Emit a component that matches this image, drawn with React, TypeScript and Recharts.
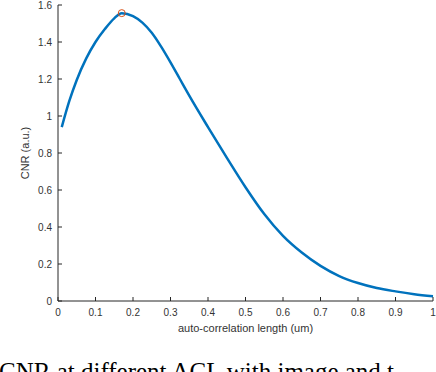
import React from "react";
import {
  LineChart,
  Line,
  XAxis,
  YAxis,
  ReferenceDot,
} from "recharts";

// auto-correlation length (um)
const aclValues = [
  0.01, 0.03, 0.05, 0.075, 0.1, 0.125, 0.15, 0.17, 0.2, 0.225, 0.25, 0.275,
  0.3, 0.325, 0.35, 0.4, 0.45, 0.5, 0.55, 0.6, 0.65, 0.7, 0.75, 0.8, 0.85,
  0.9, 0.95, 1.0,
];

// CNR (a.u.)
const cnrValues = [
  0.94, 1.08, 1.195, 1.31, 1.4, 1.47, 1.528, 1.556, 1.54, 1.505, 1.45, 1.375,
  1.29, 1.2, 1.11, 0.94, 0.775, 0.615, 0.47, 0.352, 0.262, 0.19, 0.135, 0.097,
  0.07, 0.052, 0.037, 0.026,
];

const xTicks = [0, 0.1, 0.2, 0.3, 0.4, 0.5, 0.6, 0.7, 0.8, 0.9, 1];
const yTicks = [0, 0.2, 0.4, 0.6, 0.8, 1, 1.2, 1.4, 1.6];

const peakX = 0.17;
const peakY = 1.556;

const caption = "CNR at different ACL with image and t";

const data = aclValues.map((x, i) => ({ x, cnr: cnrValues[i] }));

const axisColor = "#262626";
const font = "Liberation Sans, Arial, sans-serif";
const tickStyle = { fontSize: 10, fill: "#333333", fontFamily: font };

export default function App() {
  return (
    <div
      style={{
        position: "absolute",
        left: 0,
        top: 0,
        width: 436,
        height: 372,
        overflow: "hidden",
        background: "#fff",
      }}
    >
      <LineChart
        width={436}
        height={372}
        data={data}
        margin={{ top: 5, right: 3, bottom: 0, left: 0 }}
      >
        <XAxis
          xAxisId="main"
          dataKey="x"
          type="number"
          domain={[0, 1]}
          ticks={xTicks}
          tickFormatter={(v) => String(v)}
          tick={tickStyle}
          tickSize={-4}
          tickMargin={12}
          height={71}
          stroke={axisColor}
          label={{
            value: "auto-correlation length (um)",
            position: "insideTop",
            offset: 23,
            style: { fontSize: 11, fill: "#333333", fontFamily: font },
          }}
        />
        <XAxis
          xAxisId="top"
          orientation="top"
          dataKey="x"
          type="number"
          domain={[0, 1]}
          ticks={xTicks}
          tickFormatter={() => ""}
          tickSize={-4}
          height={0}
          stroke={axisColor}
        />
        <YAxis
          yAxisId="main"
          type="number"
          domain={[0, 1.6]}
          ticks={yTicks}
          tickFormatter={(v) => String(v)}
          tick={tickStyle}
          tickSize={-4}
          tickMargin={10}
          width={58}
          stroke={axisColor}
          label={{
            value: "CNR (a.u.)",
            angle: -90,
            position: "insideLeft",
            offset: 25,
            style: { fontSize: 11, fill: "#333333", fontFamily: font, textAnchor: "middle" },
          }}
        />
        <YAxis
          yAxisId="right"
          orientation="right"
          type="number"
          domain={[0, 1.6]}
          ticks={yTicks}
          tickFormatter={() => ""}
          tickSize={-4}
          width={0}
          stroke={axisColor}
        />
        <Line
          xAxisId="main"
          yAxisId="main"
          type="monotone"
          dataKey="cnr"
          stroke="#0072BD"
          strokeWidth={2.5}
          dot={false}
          activeDot={false}
          isAnimationActive={false}
        />
        <ReferenceDot
          xAxisId="main"
          yAxisId="main"
          x={peakX}
          y={peakY}
          r={3.5}
          fill="none"
          stroke="#D95319"
          strokeWidth={1}
        />
      </LineChart>
      <div
        style={{
          position: "absolute",
          left: -1,
          top: 359,
          fontFamily: "Liberation Serif, Times New Roman, serif",
          fontSize: 25,
          lineHeight: 1,
          whiteSpace: "nowrap",
          color: "#000",
        }}
      >
        {caption}
      </div>
    </div>
  );
}
